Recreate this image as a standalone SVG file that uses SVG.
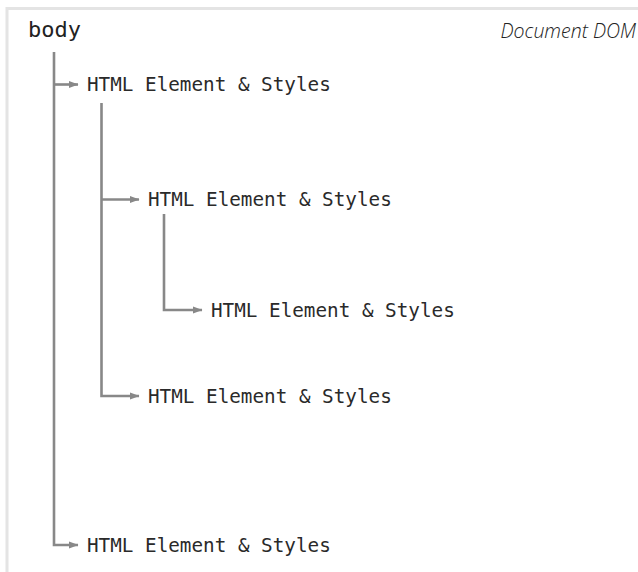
<svg xmlns="http://www.w3.org/2000/svg" width="638" height="572" viewBox="0 0 638 572">
<defs>
<marker id="ah" markerWidth="10" markerHeight="8" refX="9" refY="4" orient="auto" markerUnits="userSpaceOnUse">
<path d="M0,0.6 L9.5,4 L0,7.4 Z" fill="#888"/>
</marker>
<style>
.frame{fill:none;stroke:#e4e4e4;stroke-width:3}
.conn{fill:none;stroke:#888;stroke-width:2.6}
.lbl{font-family:"DejaVu Sans Mono","Liberation Mono",monospace;font-size:19.3px;fill:#2a2a2a}
.root{font-family:"DejaVu Sans Mono","Liberation Mono",monospace;font-size:22px;fill:#222}
.title{font-family:"Open Sans","Lato",sans-serif;font-style:italic;font-weight:300;font-size:19.5px;fill:#222}
</style>
</defs>
<rect width="638" height="572" fill="#fff"/>
<path class="frame" d="M7,572 V8.5 H638"/>
<text class="title" x="636" y="38" text-anchor="end">Document DOM</text>
<g id="body"><text class="root" x="28" y="37">body</text></g>
<g id="connectors">
<path class="conn" d="M54,52 V545 H78" marker-end="url(#ah)"/>
<path class="conn" d="M54,84.5 H78" marker-end="url(#ah)"/>
<path class="conn" d="M101.5,103 V396 H139" marker-end="url(#ah)"/>
<path class="conn" d="M101.5,199.5 H139" marker-end="url(#ah)"/>
<path class="conn" d="M164,214 V310 H202" marker-end="url(#ah)"/>
</g>
<g id="n1"><text class="lbl" x="87" y="91">HTML Element &amp; Styles</text></g>
<g id="n2"><text class="lbl" x="148" y="206">HTML Element &amp; Styles</text></g>
<g id="n3"><text class="lbl" x="211" y="316.5">HTML Element &amp; Styles</text></g>
<g id="n4"><text class="lbl" x="148" y="402.5">HTML Element &amp; Styles</text></g>
<g id="n5"><text class="lbl" x="87" y="551.5">HTML Element &amp; Styles</text></g>
</svg>
